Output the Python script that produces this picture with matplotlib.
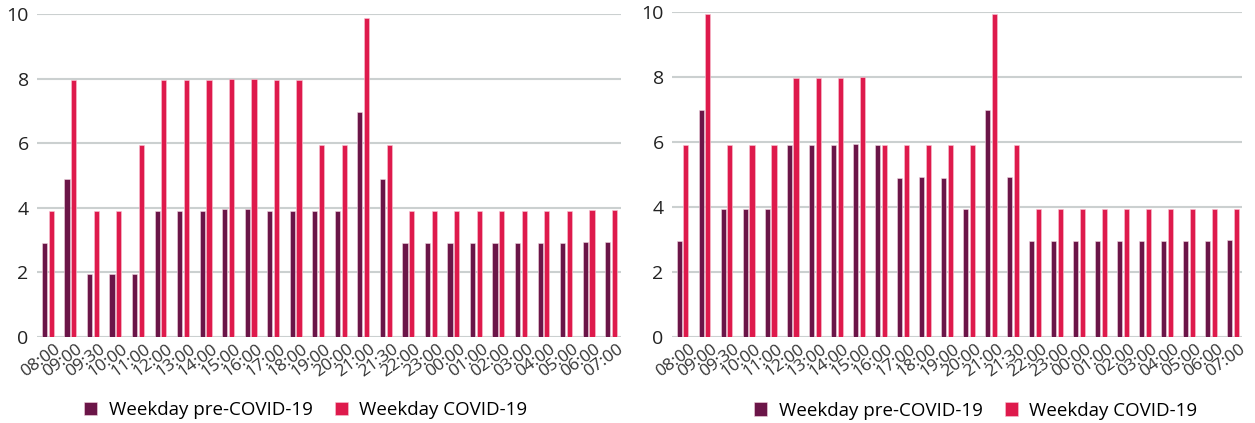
import numpy as np
import matplotlib.pyplot as plt
import matplotlib.transforms as mtransforms

plt.rcParams['font.family'] = ['Open Sans', 'DejaVu Sans']

times = ['08:00', '09:00', '09:30', '10:00', '11:00', '12:00', '13:00', '14:00',
         '15:00', '16:00', '17:00', '18:00', '19:00', '20:00', '21:00', '21:30',
         '22:00', '23:00', '00:00', '01:00', '02:00', '03:00', '04:00', '05:00',
         '06:00', '07:00']

left_pre = [2.9, 4.9, 1.95, 1.95, 1.95, 3.9, 3.9, 3.9, 3.95, 3.95, 3.9, 3.9, 3.9,
            3.9, 6.95, 4.9, 2.9, 2.9, 2.9, 2.9, 2.9, 2.9, 2.9, 2.9, 2.95, 2.95]
left_covid = [3.9, 7.95, 3.9, 3.9, 5.95, 7.95, 7.95, 7.95, 8.0, 8.0, 7.95, 7.95, 5.95,
              5.95, 9.87, 5.95, 3.9, 3.9, 3.9, 3.9, 3.9, 3.9, 3.9, 3.9, 3.92, 3.92]

right_pre = [2.95, 6.98, 3.93, 3.93, 3.93, 5.9, 5.9, 5.9, 5.92, 5.9, 4.9, 4.92, 4.9,
             3.93, 6.98, 4.92, 2.95, 2.95, 2.95, 2.95, 2.95, 2.95, 2.95, 2.95, 2.95, 2.97]
right_covid = [5.9, 9.93, 5.9, 5.9, 5.9, 7.97, 7.97, 7.97, 8.0, 5.9, 5.9, 5.9, 5.9,
               5.9, 9.93, 5.9, 3.93, 3.93, 3.93, 3.93, 3.93, 3.93, 3.93, 3.93, 3.93, 3.95]

c_pre = '#6b1548'
c_covid = '#de1a4c'
grid_c = '#cbd0d0'

fig = plt.figure(figsize=(12.55, 4.23), dpi=100)
ax1 = fig.add_axes([0.0295, 0.2033, 0.4655, 0.7637])
ax2 = fig.add_axes([0.5355, 0.2033, 0.4541, 0.769])

x = np.arange(len(times))
w = 0.23

setups = [(ax1, left_pre, left_covid, 25.45, 0.46), (ax2, right_pre, right_covid, 25.4, 0.533)]
for ax, pre, cov, xr, lx in setups:
    ax.bar(x - 0.15, pre, w, color=c_pre, edgecolor='#f2d6e0', linewidth=0.4,
           label='Weekday pre-COVID-19', zorder=3)
    ax.bar(x + 0.15, cov, w, color=c_covid, edgecolor='#f7c4d2', linewidth=0.4,
           label='Weekday COVID-19', zorder=3)
    ax.set_ylim(0, 10)
    ax.set_xlim(-0.48, xr)
    ax.set_yticks([0, 2, 4, 6, 8, 10])
    ax.yaxis.grid(True, color=grid_c, linewidth=1.5)
    ax.set_axisbelow(True)
    for s in ax.spines.values():
        s.set_visible(False)
    ax.tick_params(axis='both', length=0)
    ax.tick_params(axis='y', labelsize=14, labelcolor='#222222', pad=6)
    ax.set_xticks(x)
    ax.set_xticklabels(times, rotation=36, ha='right', rotation_mode='anchor',
                       fontsize=12.5, color='#333333')
    ax.tick_params(axis='x', pad=3)
    shift = mtransforms.ScaledTranslation(6 / 100, 0, fig.dpi_scale_trans)
    for lab in ax.get_xticklabels():
        lab.set_transform(lab.get_transform() + shift)
    ax.legend(loc='center', bbox_to_anchor=(lx, -0.226), ncol=2, frameon=False,
              fontsize=13.5, handlelength=0.7, handleheight=0.7, columnspacing=1.2,
              handletextpad=0.6)

fig.savefig('out.png', dpi=100)
